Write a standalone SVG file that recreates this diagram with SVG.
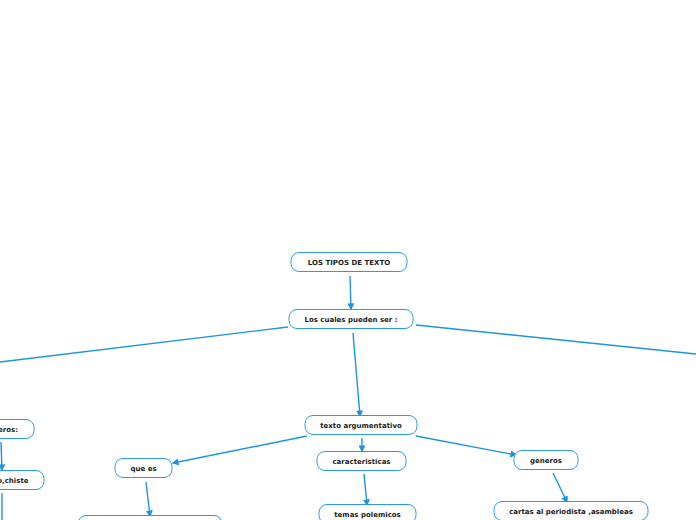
<svg xmlns="http://www.w3.org/2000/svg" width="696" height="520" viewBox="0 0 696 520">
<style>
.n rect{fill:#fff;stroke:#2a9be2;stroke-width:1}
.n text{font-family:"DejaVu Sans",Verdana,sans-serif;font-size:7px;font-weight:bold;fill:#222;text-anchor:middle}
.n text.e{text-anchor:end}
.c path{fill:none;stroke:#1e93df;stroke-width:1.4}
</style>
<defs>
<marker id="a" viewBox="0 0 10 10" refX="8" refY="5" markerWidth="7" markerHeight="7" orient="auto" markerUnits="userSpaceOnUse">
<path d="M0,0L10,5L0,10z" fill="#1e93df"/>
</marker>
</defs>
<rect width="696" height="520" fill="#fff"/>
<g class="c">
<path d="M350,276L351,309" marker-end="url(#a)"/>
<path d="M288,327L0,362"/>
<path d="M416,325L696,354"/>
<path d="M353,333L360,416" marker-end="url(#a)"/>
<path d="M362,438L362,451" marker-end="url(#a)"/>
<path d="M364,474L367,505" marker-end="url(#a)"/>
<path d="M307,436L173,463" marker-end="url(#a)"/>
<path d="M146,482L150,516" marker-end="url(#a)"/>
<path d="M416,436L516,455" marker-end="url(#a)"/>
<path d="M553,473L567,502" marker-end="url(#a)"/>
<path d="M1,442L2,470" marker-end="url(#a)"/>
<path d="M2,493L2,520"/>
</g>
<g id="n1" class="n"><rect x="291" y="252.5" width="116" height="19" rx="8"/><text x="349" y="264.5">LOS TIPOS DE TEXTO</text></g>
<g id="n2" class="n"><rect x="289" y="309.5" width="124" height="19" rx="8"/><text x="351" y="321.5">Los cuales pueden ser :</text></g>
<g id="n3" class="n"><rect x="305" y="415.5" width="112" height="19" rx="8"/><text x="361" y="427.5">texto argumentativo</text></g>
<g id="n4" class="n"><rect x="317" y="451.5" width="89" height="19" rx="8"/><text x="361.5" y="463.5">caracteristicas</text></g>
<g id="n5" class="n"><rect x="319" y="504.5" width="97" height="19" rx="8"/><text x="367.5" y="516.5">temas polemicos</text></g>
<g id="n6" class="n"><rect x="115" y="458.5" width="57" height="19" rx="8"/><text x="143.5" y="470.5">que es</text></g>
<g id="n7" class="n"><rect x="78" y="515.5" width="144" height="19" rx="8"/></g>
<g id="n8" class="n"><rect x="514" y="450.5" width="64" height="19" rx="8"/><text x="546" y="462.5">generos</text></g>
<g id="n9" class="n"><rect x="494" y="501.5" width="154" height="19" rx="8"/><text x="571" y="513.5">cartas al periodista ,asambleas</text></g>
<g id="n10" class="n"><rect x="-40" y="419.5" width="74" height="19" rx="8"/><text class="e" x="18" y="431.5">generos:</text></g>
<g id="n11" class="n"><rect x="-60" y="470.5" width="104" height="19" rx="8"/><text class="e" x="28.5" y="482.5">cuento,chiste</text></g>
</svg>
